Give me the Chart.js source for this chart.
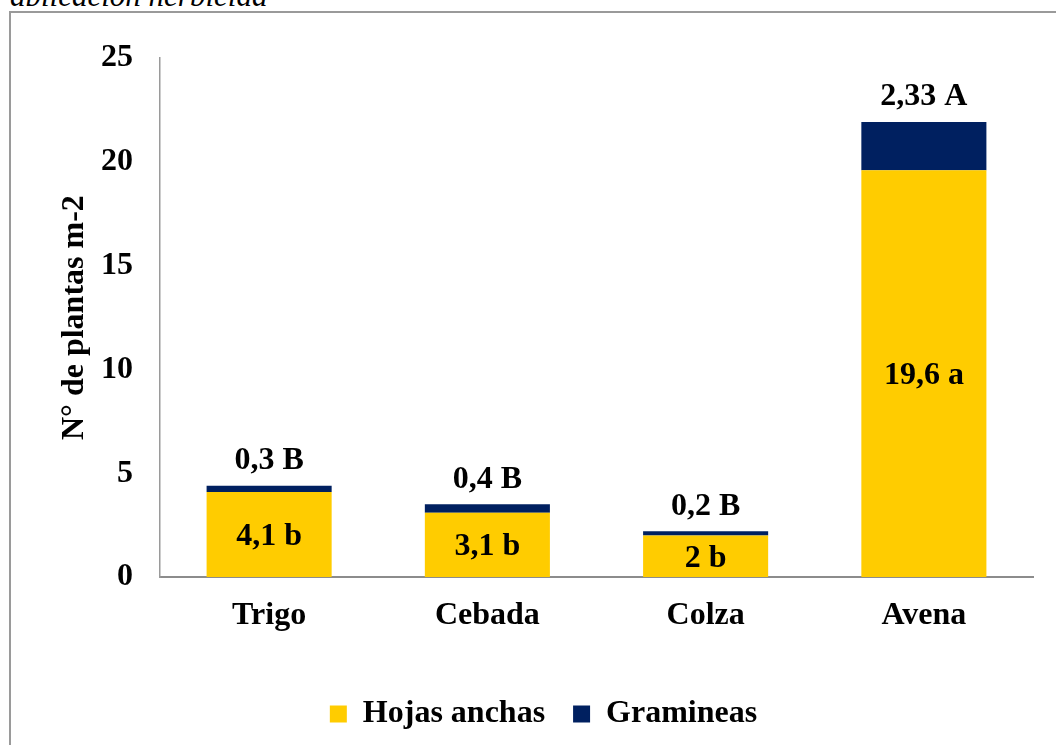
<!DOCTYPE html>
<html>
<head>
<meta charset="utf-8">
<script src="https://cdn.jsdelivr.net/npm/chart.js@4.4.1/dist/chart.umd.min.js"></script>
<style>
  html, body { margin: 0; padding: 0; background: #fff; overflow: hidden; width: 1056px; height: 745px; }
  #caption { position: absolute; left: 10px; top: 0; width: 400px; height: 6px; overflow: hidden; }
  #caption span { position: absolute; left: 0; top: -20px; font: italic 31px/31px "Liberation Serif", serif; white-space: nowrap; color: #000; }
  #frame { position: absolute; left: 9px; top: 11px; width: 1120px; height: 780px; border-left: 2px solid #9a9a9a; border-top: 2px solid #9a9a9a; background: #fff; }
  #wrap { position: absolute; left: 10px; top: 12px; width: 1110px; height: 742px; }
</style>
</head>
<body>
<div id="caption"><span>aplicación herbicida</span></div>
<div id="frame"></div>
<div id="wrap"><canvas id="myChart"></canvas></div>
<script>
const categories = ["Trigo", "Cebada", "Colza", "Avena"];
const hojas = [4.1, 3.1, 2, 19.6];
const gramineas = [0.3, 0.4, 0.2, 2.33];
const hojasLabels = ["4,1 b", "3,1 b", "2 b", "19,6 a"];
const gramLabels = ["0,3 B", "0,4 B", "0,2 B", "2,33 A"];
const yTicks = [0, 5, 10, 15, 20, 25];

const serif = "'Liberation Serif', 'Times New Roman', serif";

// draws the value letters: inside the yellow part, above the stack for the blue part
const barText = {
  id: "barText",
  afterDatasetsDraw(chart) {
    const ctx = chart.ctx;
    ctx.save();
    ctx.font = "bold 32px " + serif;
    ctx.fillStyle = "#000";
    ctx.textAlign = "center";
    ctx.textBaseline = "middle";
    chart.getDatasetMeta(0).data.forEach((bar, i) => {
      ctx.fillText(hojasLabels[i], bar.x, (bar.y + bar.base) / 2 + 2);
    });
    chart.getDatasetMeta(1).data.forEach((bar, i) => {
      ctx.fillText(gramLabels[i], bar.x, bar.y - 25);
    });
    ctx.restore();
  },
};

const ctx = document.getElementById("myChart");
new Chart(ctx, {
  type: "bar",
  data: {
    labels: categories,
    datasets: [
      {
        label: "Hojas anchas",
        data: hojas,
        backgroundColor: "#FFCC00",
        barPercentage: 0.573,
        categoryPercentage: 1,
      },
      {
        label: "Gramineas",
        data: gramineas,
        backgroundColor: "#002060",
        barPercentage: 0.573,
        categoryPercentage: 1,
      },
    ],
  },
  options: {
    responsive: true,
    maintainAspectRatio: false,
    animation: false,
    layout: { padding: { top: 43, right: 87, bottom: 14, left: 44 } },
    plugins: {
      tooltip: { enabled: false },
      legend: {
        position: "bottom",
        labels: {
          boxWidth: 17,
          boxHeight: 17,
          padding: 28,
          color: "#000",
          font: { family: serif, size: 32, weight: "bold" },
        },
      },
    },
    scales: {
      x: {
        stacked: true,
        afterFit(scale) { scale.height = 93; },
        grid: { display: false, drawTicks: false },
        border: { display: true, color: "#8c8c8c", width: 2 },
        ticks: {
          padding: 20,
          color: "#000",
          font: { family: serif, size: 32, weight: "bold" },
        },
      },
      y: {
        stacked: true,
        min: 0,
        max: 25,
        afterFit(scale) { scale.width = 106; },
        afterBuildTicks(scale) { scale.ticks = yTicks.map((v) => ({ value: v })); },
        grid: { display: false, drawTicks: false },
        border: { display: true, color: "#9a9a9a", width: 1.5 },
        ticks: {
          padding: 27,
          color: "#000",
          font: { family: serif, size: 32, weight: "bold" },
        },
        title: {
          display: true,
          text: "N° de plantas m-2",
          color: "#000",
          padding: { top: 2, bottom: 0 },
          font: { family: serif, size: 32, weight: "bold" },
        },
      },
    },
  },
  plugins: [barText],
});
</script>
</body>
</html>
